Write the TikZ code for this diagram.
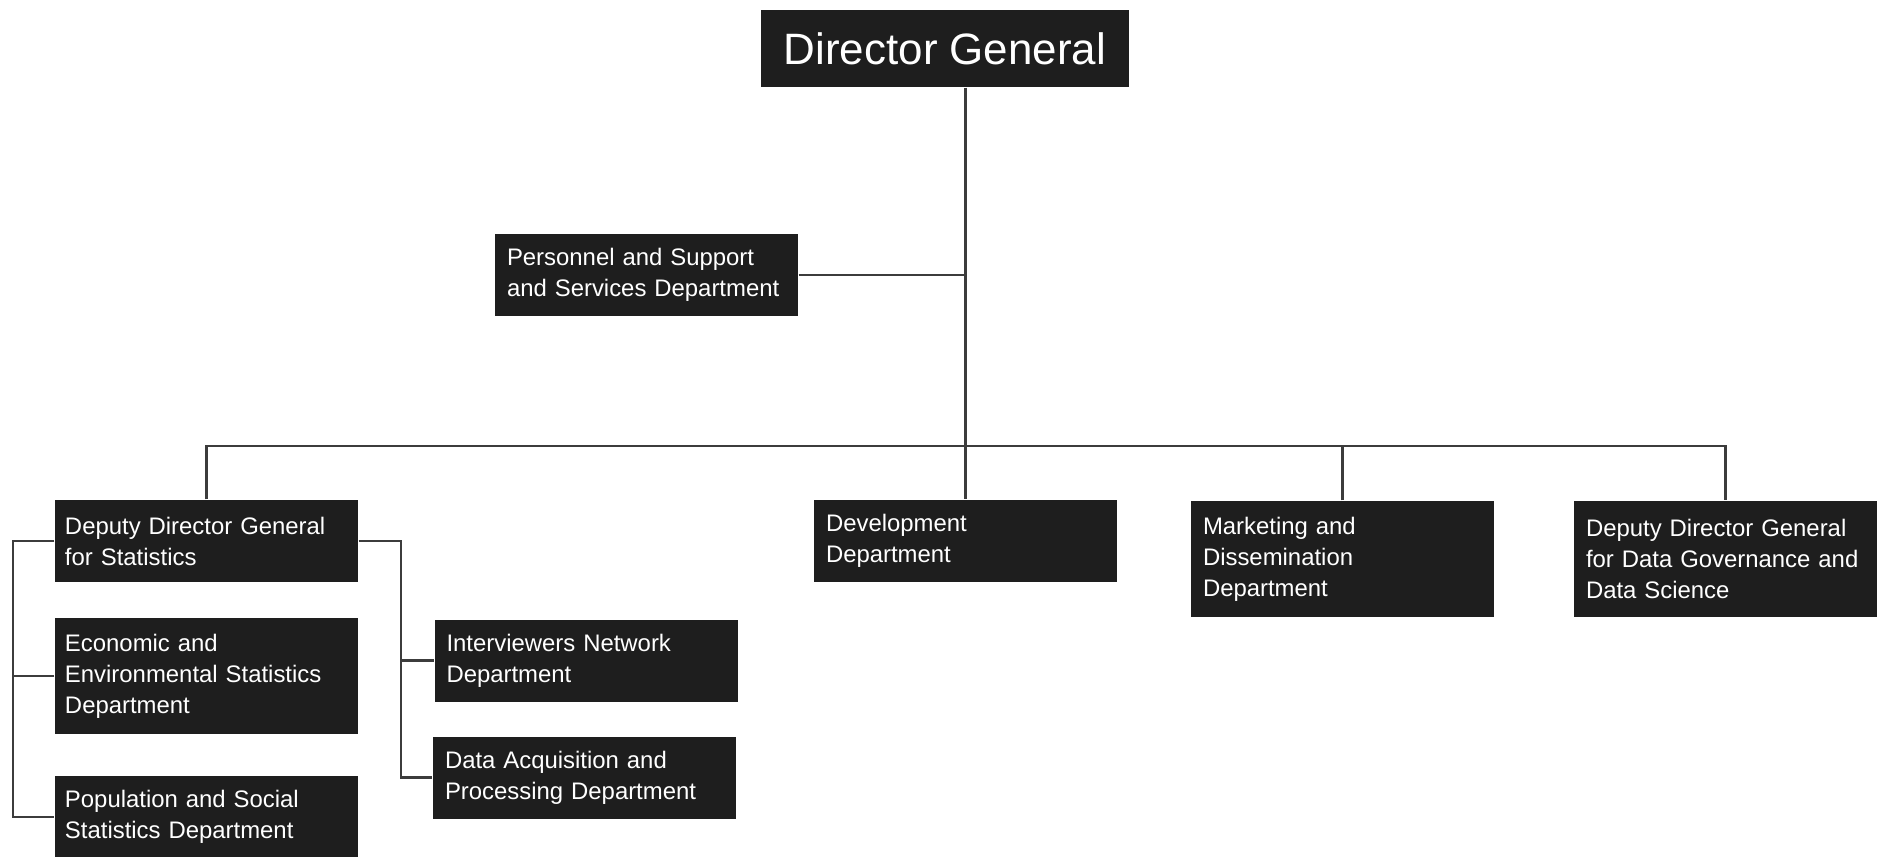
\documentclass[tikz,border=0pt]{standalone}
\usepackage{fontspec}
\setmainfont{Liberation Sans}
\usetikzlibrary{positioning}
\definecolor{boxgray}{HTML}{1E1E1E}
\definecolor{linegray}{HTML}{3C3C3C}
\tikzstyle{head} = [rectangle, minimum width=3.68cm, minimum height=0.77cm, text centered, fill=boxgray, text=white, font=\fontsize{12.5}{15}\selectfont]
\tikzstyle{dept} = [rectangle, minimum width=3.03cm, minimum height=0.82cm, text width=2.79cm, inner xsep=0.12cm, align=left, fill=boxgray, text=white, font=\fontsize{6.8}{8.8}\selectfont]
\tikzstyle{deptl} = [dept, text width=2.83cm, inner xsep=0.1cm]
\tikzstyle{tall} = [minimum height=1.16cm]
\tikzstyle{connector} = [draw=linegray, line width=0.6pt]

\begin{document}
\begin{tikzpicture}[node distance = 2cm]
	\path [use as bounding box, fill=white] (0,0) rectangle (18.85,-8.56);
	\node (dg) [head] at (9.45,-0.485) {Director General};
	\node (pers)[dept, below of = dg, xshift = -2.985cm, yshift = -0.265cm]{Personnel and Support\\and Services Department};
	\node (dev)[dept, below of = dg, xshift = 0.205cm, yshift = -2.925cm]{Development\\Department};
	\node (mkt)[dept, tall, right of = dev, xshift = 1.77cm, yshift = -0.18cm]{Marketing and\\Dissemination\\Department};
	\node (ddg2)[dept, tall, right of = mkt, xshift = 1.83cm]{Deputy Director General\\for Data Governance and\\Data Science};
	\node (ddg1)[deptl, left of = dev, xshift = -5.59cm]{Deputy Director General\\for Statistics};
	\node (econ)[deptl, tall, below of = ddg1, yshift = 0.65cm]{Economic and\\Environmental Statistics\\Department};
	\node (pop)[deptl, below of = econ, yshift = 0.59cm]{Population and Social\\Statistics Department};
	\node (intv)[dept, right of = econ, xshift = 1.795cm, yshift = 0.155cm]{Interviewers Network\\Department};
	\node (acq)[dept, below of = intv, xshift = -0.015cm, yshift = 0.83cm]{Data Acquisition and\\Processing Department};

	\coordinate (bus) at ([yshift = 0.53cm]dev.north);
	\coordinate (lrail) at ([xshift = -0.41cm]ddg1.west);
	\coordinate (rrail) at ([xshift = 0.42cm]ddg1.east);

	\draw [connector] (dev.north |- dg.south) -- (dev.north);
	\draw [connector] (pers.east) -- (pers.east -| dev.north);
	\draw [connector] (ddg1.north) |- (bus) -| (ddg2.north);
	\draw [connector] (mkt.north) -- (mkt.north |- bus);
	\draw [connector] (ddg1.west) -- (lrail) |- (pop.west);
	\draw [connector] (econ.west) -- (econ.west -| lrail);
	\draw [connector] (ddg1.east) -- (rrail) |- (acq.west);
	\draw [connector] (intv.west) -- (intv.west -| rrail);
\end{tikzpicture}
\end{document}
